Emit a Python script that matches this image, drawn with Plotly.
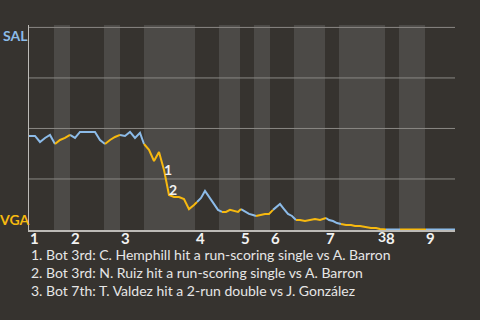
import plotly.graph_objects as go

# ---- data ----
# play position (x) and SAL win probability (0 = VGA wins, 1 = SAL wins)
play_x = [0.0, 1.2, 2.2, 3.2, 4.2,
          5.2, 6.2, 7.2,
          8.2, 9.2, 10.2, 11.2, 12.2, 13.2, 14.2,
          15.2, 16.2, 17.2,
          18.2, 19.2, 20.2, 21.2, 22.2,
          23.0, 24.0, 25.0, 26.0, 27.0, 28.0, 29.0, 30.0, 31.0, 32.0, 33.0,
          33.6, 34.4, 35.2, 36.0, 36.8, 37.8,
          38.6, 39.4, 40.2, 41.0, 41.8,
          42.4, 43.2, 44.0, 44.8,
          45.4, 46.2, 47.2, 48.0,
          48.8, 49.6, 50.2, 51.0, 51.8, 52.6,
          53.4, 54.2, 55.2, 56.2, 57.2, 58.2, 59.0,
          59.4, 60.0, 60.8, 61.6,
          62.4, 63.4, 64.4, 65.2, 66.2, 67.4, 68.4, 69.4, 70.2,
          71.4, 72.6, 73.6,
          74.2, 76.6, 79.0,
          79.4, 82.2, 85.2]
sal_wp = [0.463, 0.463, 0.433, 0.453, 0.468,
          0.423, 0.443, 0.453,
          0.468, 0.453, 0.483, 0.483, 0.483, 0.483, 0.443,
          0.423, 0.443, 0.458,
          0.468, 0.463, 0.483, 0.453, 0.478,
          0.423, 0.394, 0.339, 0.384, 0.295, 0.171, 0.161, 0.161, 0.151, 0.101, 0.121,
          0.136, 0.156, 0.191, 0.161, 0.131, 0.097,
          0.087, 0.087, 0.097, 0.092, 0.087,
          0.101, 0.087, 0.077, 0.072,
          0.067, 0.072, 0.077, 0.077,
          0.097, 0.116, 0.126, 0.101, 0.077, 0.067,
          0.047, 0.047, 0.042, 0.047, 0.052, 0.047, 0.052,
          0.057, 0.047, 0.042, 0.032,
          0.027, 0.022, 0.022, 0.017, 0.017, 0.012, 0.007, 0.007, 0.002,
          0.0, 0.0, 0.0,
          0.0, 0.0, 0.0,
          0.0, 0.0, 0.0]

# start of each half inning (top 1, bot 1, top 2, ...), last value = end of game
half_starts = [0.0, 5.0, 8.2, 15.0, 18.2, 23.0, 33.2, 38.0, 42.2, 45.0,
               48.2, 53.0, 59.2, 62.0, 71.2, 74.0, 79.2, 85.2]
inning_labels = ["1", "2", "3", "4", "5", "6", "7", "8", "9"]
grid_levels = [0.25, 0.5, 0.75, 1.0]

# key plays: index into play_x
event_idx = [27, 28, 78]
event_labels = ["1", "2", "3"]
event_notes = [
    "1. Bot 3rd: C. Hemphill hit a run-scoring single vs A. Barron",
    "2. Bot 3rd: N. Ruiz hit a run-scoring single vs A. Barron",
    "3. Bot 7th: T. Valdez hit a 2-run double vs J. González",
]
teams = ["SAL", "VGA"]
team_colors = ["#8cbbe8", "#f7b90f"]

# ---- styling ----
BG = "#36332f"
BAND = "#4c4a47"
GRID = "#8a8884"
AXIS = "#bdbbb7"
FONT = "Lato"


def half_of(x):
    h = 0
    for i, s in enumerate(half_starts[:-1]):
        if x >= s:
            h = i
    return h


# split the line into runs coloured by the batting team
segs = {0: ([], []), 1: ([], [])}
i = 0
n = len(play_x)
while i < n - 1:
    team = half_of(play_x[i]) % 2
    j = i
    while j < n - 1 and half_of(play_x[j]) % 2 == team:
        j += 1
    xs, ys = segs[team]
    xs.extend(play_x[i:j + 1] + [None])
    ys.extend(sal_wp[i:j + 1] + [None])
    i = j

fig = go.Figure()
for team in (0, 1):
    xs, ys = segs[team]
    fig.add_trace(go.Scatter(x=xs, y=ys, mode="lines",
                             line=dict(color=team_colors[team], width=2),
                             hoverinfo="skip", showlegend=False))

# bottom-half bands
for k in range(1, len(half_starts) - 1, 2):
    fig.add_shape(type="rect", xref="x", yref="paper",
                  x0=half_starts[k], x1=half_starts[k + 1], y0=0, y1=1,
                  fillcolor=BAND, line_width=0, layer="below")
# horizontal grid lines (drawn over the bands)
for g in grid_levels:
    fig.add_shape(type="line", xref="paper", yref="y", x0=0, x1=1, y0=g, y1=g,
                  line=dict(color=GRID, width=1), layer="below")

inning_starts = half_starts[0:-1:2]

annotations = []
# team labels
annotations.append(dict(xref="paper", yref="paper", x=0, y=1, xanchor="right",
                        yanchor="top", xshift=1, yshift=0, text="<b>%s</b>" % teams[0],
                        showarrow=False,
                        font=dict(family=FONT, size=14, color=team_colors[0])))
annotations.append(dict(xref="paper", yref="paper", x=0, y=0, xanchor="right",
                        yanchor="bottom", xshift=2, yshift=0, text="<b>%s</b>" % teams[1],
                        showarrow=False,
                        font=dict(family=FONT, size=14, color=team_colors[1])))
# inning labels
for xs_, lab in zip(inning_starts, inning_labels):
    annotations.append(dict(x=xs_, y=0, xref="x", yref="paper", text="<b>%s</b>" % lab,
                            showarrow=False, xanchor="left", yanchor="top",
                            xshift=-1, yshift=3,
                            font=dict(family=FONT, size=15, color="#f2f2f2")))
# event markers
shifts = [(4, 0), (4, 5), (2, -7)]
for idx, lab, (dx, dy) in zip(event_idx, event_labels, shifts):
    annotations.append(dict(x=play_x[idx], y=sal_wp[idx], xref="x", yref="y",
                            text="<b>%s</b>" % lab, showarrow=False,
                            xanchor="center", yanchor="middle",
                            xshift=dx, yshift=dy,
                            font=dict(family=FONT, size=14, color="#f2f2f2")))
# notes
annotations.append(dict(xref="paper", yref="paper", x=0, y=0, xanchor="left",
                        yanchor="top", align="left", xshift=0, yshift=-14,
                        text="<br>".join(event_notes), showarrow=False,
                        font=dict(family=FONT, size=14, color="#e6e6e6")))

fig.update_layout(
    width=480, height=320,
    margin=dict(l=29, r=25, t=25, b=90),
    paper_bgcolor=BG, plot_bgcolor=BG,
    annotations=annotations,
    xaxis=dict(range=[half_starts[0], half_starts[-1]], showgrid=False,
               zeroline=False, showline=True, linecolor=AXIS, linewidth=1.5,
               showticklabels=False, ticks=""),
    yaxis=dict(range=[-0.0025, 1.012], showgrid=False,
               showticklabels=False, ticks="", zeroline=False,
               showline=True, linecolor=AXIS, linewidth=1),
)

fig.write_html("out.html")
